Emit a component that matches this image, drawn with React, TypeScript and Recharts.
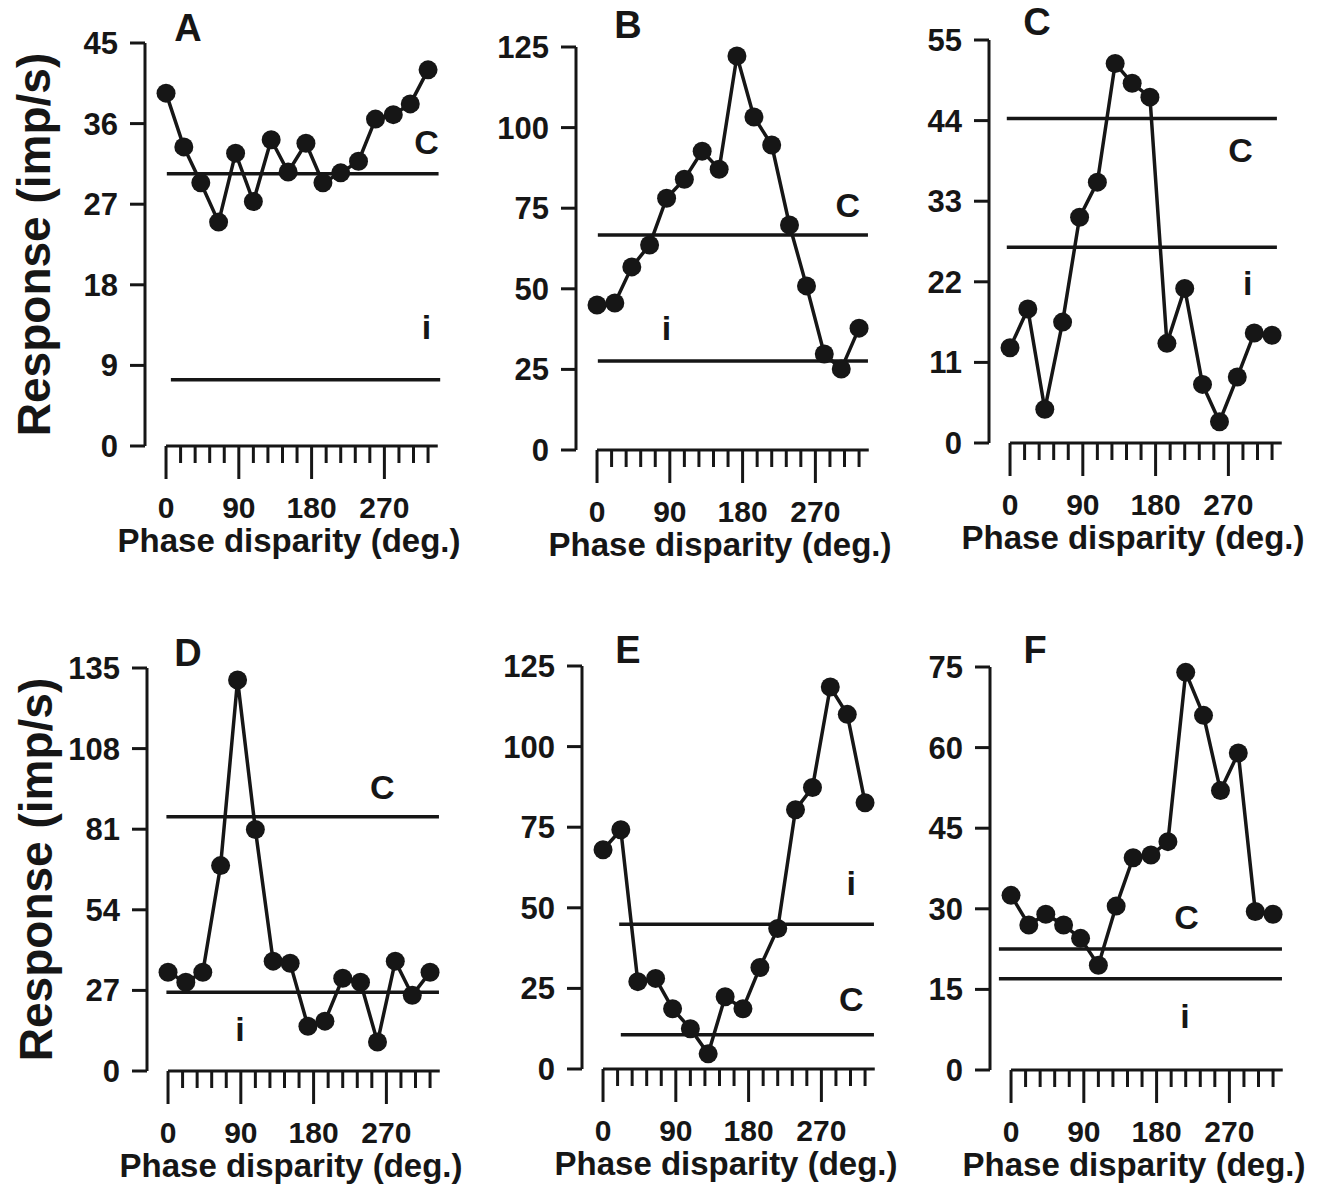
import React from 'react';
import { LineChart, Line, XAxis, YAxis, ReferenceLine, ReferenceDot } from 'recharts';

// phase disparity of each sample (deg)
const phase = [0, 22, 43, 65, 86, 108, 130, 151, 173, 194, 216, 238, 259, 281, 302, 324];
const xTicks = [0, 18, 36, 54, 72, 90, 108, 126, 144, 162, 180, 198, 216, 234, 252, 270, 288, 306, 324];
const xLabels = [0, 90, 180, 270];

// responses (imp/s) per panel
const respA = [39.4, 33.4, 29.4, 25.0, 32.7, 27.3, 34.2, 30.6, 33.8, 29.4, 30.5, 31.8, 36.5, 37.0, 38.2, 42.0];
const respB = [45.0, 45.6, 56.8, 63.6, 78.1, 84.0, 92.7, 87.1, 122.2, 103.3, 94.6, 69.8, 50.9, 29.8, 25.1, 37.8];
const respC = [13.0, 18.3, 4.6, 16.5, 30.8, 35.6, 51.8, 49.1, 47.2, 13.6, 21.1, 8.0, 2.9, 9.0, 15.0, 14.7];
const respD = [33.1, 29.7, 33.1, 68.8, 131.0, 80.9, 36.8, 36.1, 15.0, 16.7, 31.1, 29.7, 9.7, 36.8, 25.4, 33.1];
const respE = [68.0, 74.2, 27.1, 28.1, 18.7, 12.5, 4.7, 22.4, 18.7, 31.5, 43.6, 80.4, 87.3, 118.5, 110.0, 82.6];
const respF = [32.5, 27.0, 29.0, 27.0, 24.5, 19.5, 30.5, 39.5, 40.0, 42.5, 74.0, 66.0, 52.0, 59.0, 29.5, 29.0];

// monocular levels: C (contra) and i (ipsi)
const cLevels = [30.4, 66.7, 44.3, 85.2, 10.6, 22.5];
const iLevels = [7.4, 27.6, 26.7, 26.4, 44.9, 17.0];

const ticksA = [0, 9, 18, 27, 36, 45];
const ticksB = [0, 25, 50, 75, 100, 125];
const ticksC = [0, 11, 22, 33, 44, 55];
const ticksD = [0, 27, 54, 81, 108, 135];
const ticksE = [0, 25, 50, 75, 100, 125];
const ticksF = [0, 15, 30, 45, 60, 75];

const INK = '#161616';
const FONT = '"Liberation Sans", Arial, Helvetica, sans-serif';
const PLOT_W = 296;
const PLOT_H = 403;
const TOP = 42;
const XAXIS_H = 120;
const RIGHT = 40;

const panels = [
  { title: 'A', values: respA, yTicks: ticksA, axisX: 145, top: 43, yLabel: true, titleAt: [43, -15], cAt: [322, 34], iAt: [322, 13.3], cSpan: [1, 337], iSpan: [6, 339] },
  { title: 'B', values: respB, yTicks: ticksB, axisX: 576, top: 47, yLabel: false, titleAt: [52, -22], cAt: [310, 76], iAt: [86, 37.8], cSpan: [1, 335], iSpan: [1, 335] },
  { title: 'C', values: respC, yTicks: ticksC, axisX: 989, top: 40, yLabel: false, titleAt: [48, -18], cAt: [285, 40], iAt: [294, 21.8], cSpan: [-4, 330], iSpan: [-4, 330] },
  { title: 'D', values: respD, yTicks: ticksD, axisX: 147, top: 668, yLabel: true, titleAt: [41, -15], cAt: [265, 95.2], iAt: [89, 14], cSpan: [-2, 335], iSpan: [-2, 335] },
  { title: 'E', values: respE, yTicks: ticksE, axisX: 582, top: 666, yLabel: false, titleAt: [46, -16], cAt: [307, 21.8], iAt: [307, 57.7], cSpan: [22, 335], iSpan: [20, 335] },
  { title: 'F', values: respF, yTicks: ticksF, axisX: 990, top: 667, yLabel: false, titleAt: [45, -17], cAt: [217, 28.4], iAt: [215, 10], cSpan: [-15, 335], iSpan: [-15, 335] },
];

const XTick = (props: any) => {
  const { x, y, payload } = props;
  const major = xLabels.includes(payload.value);
  return (
    <g>
      <line x1={x} x2={x} y1={y} y2={y + (major ? 33 : 17)} stroke={INK} strokeWidth={3} />
      {major && (
        <text x={x} y={y + 72} textAnchor="middle" fontSize={30} fontWeight="bold" fontFamily={FONT} fill={INK}>
          {payload.value}
        </text>
      )}
    </g>
  );
};

const Panel = ({ p, idx }: { p: any; idx: number }) => {
  const yw = p.yLabel ? 145 : 100;
  const data = phase.map((ph, k) => ({ phase: ph, resp: p.values[k] }));
  const yMax = p.yTicks[p.yTicks.length - 1];

  const yAxisLabel = (lp: any) => {
    const vb = lp.viewBox;
    const tx = vb.x + vb.width + p.titleAt[0];
    const ty = vb.y + p.titleAt[1] + 13;
    const cy = vb.y + vb.height / 2;
    const lx = vb.x + 34;
    return (
      <g>
        <text x={tx} y={ty} textAnchor="middle" fontSize={38} fontWeight="bold" fontFamily={FONT} fill={INK}>
          {p.title}
        </text>
        {p.yLabel && (
          <text
            x={lx}
            y={cy}
            transform={`rotate(-90 ${lx} ${cy})`}
            textAnchor="middle"
            dominantBaseline="central"
            fontSize={46}
            fontWeight="bold"
            fontFamily={FONT}
            fill={INK}
          >
            Response (imp/s)
          </text>
        )}
      </g>
    );
  };

  const xAxisLabel = (lp: any) => {
    const vb = lp.viewBox;
    return (
      <text x={vb.x + 144} y={vb.y + 106} textAnchor="middle" fontSize={33} fontWeight="bold" fontFamily={FONT} fill={INK}>
        Phase disparity (deg.)
      </text>
    );
  };

  const refLabel = (value: string) => ({
    value,
    position: 'center' as const,
    fontSize: 34,
    fontWeight: 'bold',
    fontFamily: FONT,
    fill: INK,
  });

  return (
    <div style={{ position: 'absolute', left: p.axisX - yw, top: p.top - TOP }}>
      <LineChart
        width={yw + PLOT_W + RIGHT}
        height={TOP + PLOT_H + XAXIS_H}
        data={data}
        margin={{ top: TOP, right: RIGHT, bottom: 0, left: 0 }}
      >
        <XAxis
          type="number"
          dataKey="phase"
          domain={[-26, 340]}
          ticks={xTicks}
          interval={0}
          axisLine={false}
          tickLine={false}
          tickSize={0}
          tickMargin={0}
          height={XAXIS_H}
          tick={<XTick />}
          label={xAxisLabel}
        />
        <YAxis
          type="number"
          domain={[0, yMax]}
          ticks={p.yTicks}
          interval={0}
          width={yw}
          tickSize={15}
          tickMargin={12}
          axisLine={{ stroke: INK, strokeWidth: 3 }}
          tickLine={{ stroke: INK, strokeWidth: 3 }}
          tick={{ fontSize: 31, fill: INK, fontFamily: FONT, fontWeight: 'bold' }}
          label={yAxisLabel}
        />
        <ReferenceLine segment={[{ x: 0, y: 0 }, { x: 336, y: 0 }]} stroke={INK} strokeWidth={3} />
        <ReferenceLine
          segment={[{ x: p.cSpan[0], y: cLevels[idx] }, { x: p.cSpan[1], y: cLevels[idx] }]}
          stroke={INK}
          strokeWidth={3.5}
        />
        <ReferenceLine
          segment={[{ x: p.iSpan[0], y: iLevels[idx] }, { x: p.iSpan[1], y: iLevels[idx] }]}
          stroke={INK}
          strokeWidth={3.5}
        />
        <ReferenceDot x={p.cAt[0]} y={p.cAt[1]} r={1} fill="none" stroke="none" label={refLabel('C')} />
        <ReferenceDot x={p.iAt[0]} y={p.iAt[1]} r={1} fill="none" stroke="none" label={refLabel('i')} />
        <Line
          type="linear"
          dataKey="resp"
          stroke={INK}
          strokeWidth={3.5}
          dot={{ r: 9.5, fill: INK, stroke: 'none' }}
          activeDot={false}
          isAnimationActive={false}
        />
      </LineChart>
    </div>
  );
};

export default function App() {
  return (
    <div style={{ position: 'absolute', left: 0, top: 0, width: 1335, height: 1189, background: '#fff' }}>
      {panels.map((p, idx) => (
        <Panel key={p.title} p={p} idx={idx} />
      ))}
    </div>
  );
}
